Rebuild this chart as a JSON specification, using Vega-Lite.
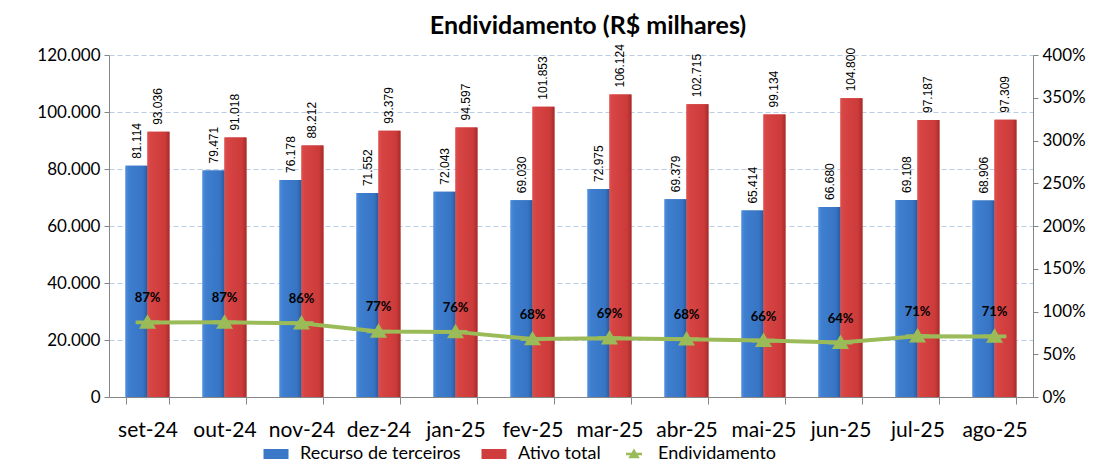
{
  "$schema": "https://vega.github.io/schema/vega-lite/v6.json",
  "width": 924,
  "height": 342,
  "autosize": {"type": "none"},
  "padding": {"left": 109, "top": 55, "right": 78, "bottom": 68},
  "background": "white",
  "title": {"text": "Endividamento (R$ milhares)", "font": "Lato", "fontSize": 25, "fontWeight": "bold", "color": "black", "anchor": "middle", "offset": 5, "dx": 17},
  "config": {
    "locale": {"number": {"decimal": ",", "thousands": ".", "grouping": [3], "currency": ["R$", ""]}},
    "view": {"stroke": null},
    "axis": {"labelFont": "Lato", "labelFontSize": 17, "labelColor": "black", "domainColor": "#868686", "tickColor": "#868686", "title": null},
    "legend": {"labelFont": "Lato", "labelFontSize": 18, "labelColor": "black", "labelLimit": 0}
  },
  "datasets": {
    "d": [
      {"mes": "set-24", "serie": "Recurso de terceiros", "valor": 81114},
      {"mes": "set-24", "serie": "Ativo total", "valor": 93036},
      {"mes": "out-24", "serie": "Recurso de terceiros", "valor": 79471},
      {"mes": "out-24", "serie": "Ativo total", "valor": 91018},
      {"mes": "nov-24", "serie": "Recurso de terceiros", "valor": 76178},
      {"mes": "nov-24", "serie": "Ativo total", "valor": 88212},
      {"mes": "dez-24", "serie": "Recurso de terceiros", "valor": 71552},
      {"mes": "dez-24", "serie": "Ativo total", "valor": 93379},
      {"mes": "jan-25", "serie": "Recurso de terceiros", "valor": 72043},
      {"mes": "jan-25", "serie": "Ativo total", "valor": 94597},
      {"mes": "fev-25", "serie": "Recurso de terceiros", "valor": 69030},
      {"mes": "fev-25", "serie": "Ativo total", "valor": 101853},
      {"mes": "mar-25", "serie": "Recurso de terceiros", "valor": 72975},
      {"mes": "mar-25", "serie": "Ativo total", "valor": 106124},
      {"mes": "abr-25", "serie": "Recurso de terceiros", "valor": 69379},
      {"mes": "abr-25", "serie": "Ativo total", "valor": 102715},
      {"mes": "mai-25", "serie": "Recurso de terceiros", "valor": 65414},
      {"mes": "mai-25", "serie": "Ativo total", "valor": 99134},
      {"mes": "jun-25", "serie": "Recurso de terceiros", "valor": 66680},
      {"mes": "jun-25", "serie": "Ativo total", "valor": 104800},
      {"mes": "jul-25", "serie": "Recurso de terceiros", "valor": 69108},
      {"mes": "jul-25", "serie": "Ativo total", "valor": 97187},
      {"mes": "ago-25", "serie": "Recurso de terceiros", "valor": 68906},
      {"mes": "ago-25", "serie": "Ativo total", "valor": 97309}
    ],
    "p": [
      {"mes": "set-24", "serie": "Endividamento", "pct": 0.8719},
      {"mes": "out-24", "serie": "Endividamento", "pct": 0.8731},
      {"mes": "nov-24", "serie": "Endividamento", "pct": 0.8636},
      {"mes": "dez-24", "serie": "Endividamento", "pct": 0.7663},
      {"mes": "jan-25", "serie": "Endividamento", "pct": 0.7616},
      {"mes": "fev-25", "serie": "Endividamento", "pct": 0.6777},
      {"mes": "mar-25", "serie": "Endividamento", "pct": 0.6876},
      {"mes": "abr-25", "serie": "Endividamento", "pct": 0.6754},
      {"mes": "mai-25", "serie": "Endividamento", "pct": 0.6599},
      {"mes": "jun-25", "serie": "Endividamento", "pct": 0.6363},
      {"mes": "jul-25", "serie": "Endividamento", "pct": 0.7111},
      {"mes": "ago-25", "serie": "Endividamento", "pct": 0.7081}
    ]
  },
  "layer": [
    {
      "data": {"name": "d"},
      "encoding": {
        "x": {"field": "mes", "type": "ordinal", "sort": null,
              "scale": {"paddingInner": 0.43, "paddingOuter": 0.215},
              "axis": {"labelAngle": 0, "ticks": true, "tickBand": "extent", "tickSize": 7, "labelPadding": 15, "labelFontSize": 21, "domain": true}},
        "xOffset": {"field": "serie", "type": "nominal", "sort": ["Recurso de terceiros", "Ativo total"], "scale": {"domain": ["Recurso de terceiros", "Ativo total"], "paddingInner": 0, "paddingOuter": 0}},
        "y": {"field": "valor", "type": "quantitative",
              "scale": {"domain": [0, 120000], "nice": false},
              "axis": {"values": [0, 20000, 40000, 60000, 80000, 100000, 120000], "format": ",.0f", "grid": true, "gridColor": "#B9CDE5", "gridDash": [5, 3], "tickSize": 5, "labelPadding": 4}}
      },
      "layer": [
        {
          "mark": {"type": "bar"},
          "encoding": {
            "color": {"field": "serie", "type": "nominal",
                      "scale": {"domain": ["Recurso de terceiros", "Ativo total", "Endividamento"], "range": ["#3B78C8", "#CF3E3D", "#9BBB59"]},
                      "legend": {"orient": "none", "legendX": 150, "legendY": 390, "direction": "horizontal", "title": null, "symbolSize": 100, "symbolOffset": 8, "labelOffset": 15, "columnPadding": 16, "symbolStrokeWidth": 0, "labelFont": "Lato", "labelFontSize": 18, "labelLimit": 0}}
          }
        },
        {
          "transform": [{"filter": "datum.serie === 'Recurso de terceiros'"}],
          "mark": {"type": "bar", "color": {"gradient": "linear", "x1": 0, "x2": 1, "y1": 0, "y2": 0, "stops": [{"offset": 0, "color": "#4E8EDC"}, {"offset": 0.15, "color": "#3F7FD0"}, {"offset": 0.8, "color": "#3774C4"}, {"offset": 1, "color": "#2A5A9A"}]}}
        },
        {
          "transform": [{"filter": "datum.serie === 'Ativo total'"}],
          "mark": {"type": "bar", "color": {"gradient": "linear", "x1": 0, "x2": 1, "y1": 0, "y2": 0, "stops": [{"offset": 0, "color": "#DE4E4C"}, {"offset": 0.15, "color": "#D64443"}, {"offset": 0.8, "color": "#CC3B3A"}, {"offset": 1, "color": "#A42C2A"}]}}
        },
        {
          "mark": {"type": "text", "angle": 270, "align": "left", "baseline": "middle", "dx": 7, "font": "Liberation Sans", "fontSize": 12, "color": "black"},
          "encoding": {"text": {"field": "valor", "type": "quantitative", "format": ",.0f"}}
        }
      ]
    },
    {
      "data": {"name": "p"},
      "encoding": {
        "x": {"field": "mes", "type": "ordinal", "sort": null, "axis": null},
        "y": {"field": "pct", "type": "quantitative",
              "scale": {"domain": [0, 4], "nice": false},
              "axis": {"orient": "right", "values": [0, 0.5, 1, 1.5, 2, 2.5, 3, 3.5, 4], "format": ".0%", "grid": false, "tickSize": 5, "labelPadding": 4}}
      },
      "layer": [
        {
          "mark": {"type": "line", "strokeWidth": 4, "color": "#9BBB59"},
          "encoding": {}
        },
        {
          "mark": {"type": "point", "filled": true, "size": 220, "opacity": 1},
          "encoding": {
            "color": {"field": "serie", "type": "nominal",
                      "legend": {"orient": "none", "legendX": 150, "legendY": 390, "direction": "horizontal", "title": null, "symbolSize": 100, "symbolOffset": 8, "labelOffset": 15, "columnPadding": 16, "symbolStrokeWidth": 0, "labelFont": "Lato", "labelFontSize": 18, "labelLimit": 0}},
            "shape": {"field": "serie", "type": "nominal",
                      "scale": {"domain": ["Recurso de terceiros", "Ativo total", "Endividamento"],
                                "range": ["M-2.5,-1H2.5V1H-2.5Z", "M-2.5,-1H2.5V1H-2.5Z", "M-1.6,-0.25H1.6V0.25H-1.6Z M0,-1.1L1.15,0.85H-1.15Z"]},
                      "legend": {"orient": "none", "legendX": 150, "legendY": 390, "direction": "horizontal", "title": null, "symbolSize": 100, "symbolOffset": 8, "labelOffset": 15, "columnPadding": 16, "symbolStrokeWidth": 0, "labelFont": "Lato", "labelFontSize": 18, "labelLimit": 0}}
          }
        },
        {
          "mark": {"type": "text", "dy": -24, "font": "Lato", "fontSize": 13, "fontWeight": "bold", "color": "black"},
          "encoding": {"text": {"field": "pct", "type": "quantitative", "format": ".0%"}}
        }
      ]
    }
  ],
  "resolve": {"scale": {"y": "independent"}, "axis": {"x": "independent"}}
}
